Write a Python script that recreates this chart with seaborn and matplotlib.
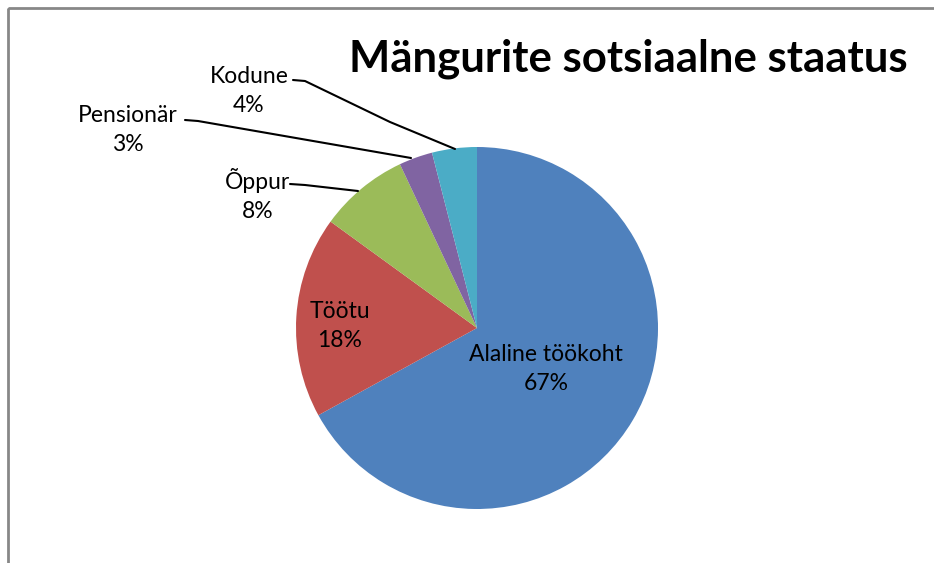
import matplotlib
matplotlib.use("Agg")
import matplotlib.pyplot as plt
import seaborn as sns
from matplotlib.patches import Rectangle

# data
categories = ["Alaline töökoht", "Töötu", "Õppur", "Pensionär", "Kodune"]
shares = [67, 18, 8, 3, 4]
slice_colors = ["#4F81BD", "#C0504D", "#9BBB59", "#8064A2", "#4BACC6"]
chart_title = "Mängurite sotsiaalne staatus"

sns.set_theme(style="white")
plt.rcParams['font.family'] = ['Lato', 'DejaVu Sans']

fig = plt.figure(figsize=(9.34, 5.63), dpi=100)
ax = fig.add_axes([0, 0, 1, 1])

# work in pixel coordinates, y pointing down (so counterclock=True draws clockwise)
palette = sns.color_palette(slice_colors)
ax.pie(shares, colors=palette, center=(477, 328), radius=181,
       startangle=-90, counterclock=True, frame=True,
       wedgeprops=dict(linewidth=0))
ax.set_xlim(0, 934)
ax.set_ylim(563, 0)
ax.set_aspect('equal')
ax.axis('off')

# frame of the chart area
ax.add_patch(Rectangle((8, 8), 1200, 1200, fill=False, edgecolor='#878787', lw=2))

ax.text(628, 59, chart_title, ha='center', va='center', fontsize=31.5,
        fontweight='bold', color='black')

lbl = dict(ha='center', va='center', fontsize=16.5, linespacing=1.45, color='black')
ax.text(546, 369, f"{categories[0]}\n{shares[0]}%", **lbl)
ax.text(340, 326, f"{categories[1]}\n{shares[1]}%", **lbl)
ax.text(258, 195, f"{categories[2]}\n{shares[2]}%", **lbl)
ax.text(128, 130, f"{categories[3]}\n{shares[3]}%", **lbl)
ax.text(249, 91, f"{categories[4]}\n{shares[4]}%", **lbl)

# leader lines for the small slices
ax.plot([290, 305, 358], [184, 185, 191], color='black', lw=1.5)
ax.plot([185, 198, 411], [120, 121, 158], color='black', lw=1.5)
ax.plot([293, 305, 390, 455], [80, 81, 122, 149], color='black', lw=1.5)

fig.savefig("out.png", dpi=100)
